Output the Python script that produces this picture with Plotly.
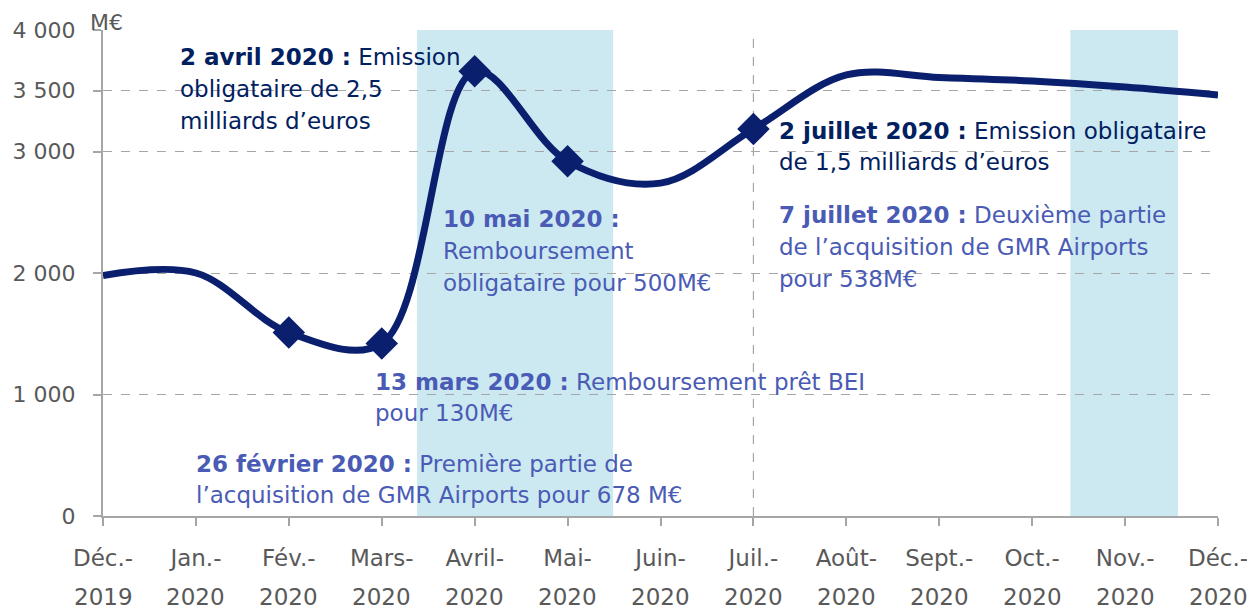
import plotly.graph_objects as go

# ---- data ----
months = ["Déc.-", "Jan.-", "Fév.-", "Mars-", "Avril-", "Mai-", "Juin-",
          "Juil.-", "Août-", "Sept.-", "Oct.-", "Nov.-", "Déc.-"]
years = ["2019", "2020", "2020", "2020", "2020", "2020", "2020",
         "2020", "2020", "2020", "2020", "2020", "2020"]
values = [1980, 2000, 1510, 1420, 3660, 2920, 2740, 3185, 3630, 3610, 3580, 3530, 3465]
marker_idx = [2, 3, 4, 5, 7]
ytick_vals = [0, 1000, 2000, 3000, 3500, 4000]
ytick_text = ["0", "1 000", "2 000", "3 000", "3 500", "4 000"]
shade_ranges = [(3.38, 5.49), (10.41, 11.57)]
vline_idx = 7

DARK = "#0B1F6F"
TXT_DARK = "#002060"
TXT_LIGHT = "#4A5BB5"
GREY = "#595959"
AXIS = "#A6A6A6"
FONT = "DejaVu Sans"
FS = 23
TFS = 23
YFS = 22

# page offset (body margin of the html page)
OFF = 8
W, H = 1255 - OFF, 610 - OFF
# plot area in page pixels
L, R, T, B = 103, 1218, 30, 516

x = list(range(len(months)))

fig = go.Figure()
fig.add_trace(go.Scatter(x=x, y=values, mode="lines",
                         line=dict(color=DARK, width=7, shape="spline", smoothing=1.0),
                         hoverinfo="skip", showlegend=False))
fig.add_trace(go.Scatter(x=[x[i] for i in marker_idx], y=[values[i] for i in marker_idx],
                         mode="markers",
                         marker=dict(symbol="diamond", size=25, color=DARK),
                         showlegend=False))

for x0, x1 in shade_ranges:
    fig.add_shape(type="rect", xref="x", yref="paper", x0=x0, x1=x1, y0=0, y1=1,
                  fillcolor="#CCE9F2", line_width=0, layer="below")

fig.add_shape(type="line", xref="x", yref="paper", x0=vline_idx, x1=vline_idx, y0=0, y1=1,
              line=dict(color=AXIS, width=1.2, dash="dash"), layer="below")

def px(xp):
    return (xp - L) / (R - L)
def py(yp):
    return (B - yp) / (B - T)

def note(left, ycenter, text, color):
    fig.add_annotation(x=px(left), y=py(ycenter), xref="paper", yref="paper",
                       text=text, showarrow=False, xanchor="left", yanchor="middle",
                       font=dict(family=FONT, size=FS, color=color))

note(178, 57, "<b>2 avril 2020 :</b> Emission", TXT_DARK)
note(178, 89, "obligataire de 2,5", TXT_DARK)
note(178, 121, "milliards d’euros", TXT_DARK)

note(441, 219, "<b>10 mai 2020 :</b>", TXT_LIGHT)
note(441, 251, "Remboursement", TXT_LIGHT)
note(441, 283, "obligataire pour 500M€", TXT_LIGHT)

note(777, 131, "<b>2 juillet 2020 :</b> Emission obligataire", TXT_DARK)
note(777, 162, "de 1,5 milliards d’euros", TXT_DARK)

note(777, 215, "<b>7 juillet 2020 :</b> Deuxième partie", TXT_LIGHT)
note(777, 247, "de l’acquisition de GMR Airports", TXT_LIGHT)
note(777, 279, "pour 538M€", TXT_LIGHT)

note(373, 382, "<b>13 mars 2020 :</b> Remboursement prêt BEI", TXT_LIGHT)
note(373, 413, "pour 130M€", TXT_LIGHT)

note(194, 464, "<b>26 février 2020 :</b> Première partie de", TXT_LIGHT)
note(194, 495, "l’acquisition de GMR Airports pour 678 M€", TXT_LIGHT)

# unit label
fig.add_annotation(x=px(88), y=py(8), xref="paper", yref="paper", text="M€",
                   showarrow=False, xanchor="left", yanchor="top",
                   font=dict(family=FONT, size=22, color=GREY))

# second line of category labels
for i, yr in enumerate(years):
    fig.add_annotation(x=i, y=py(597), xref="x", yref="paper", text=yr,
                       showarrow=False, xanchor="center", yanchor="middle",
                       font=dict(family=FONT, size=TFS, color=GREY))

fig.update_layout(
    width=W, height=H,
    margin=dict(l=L - OFF, r=W - (R - OFF), t=T - OFF, b=H - (B - OFF), pad=0,
                autoexpand=False),
    paper_bgcolor="white", plot_bgcolor="white",
    font=dict(family=FONT, size=TFS, color=GREY),
    showlegend=False,
)
fig.update_xaxes(range=[0, 12], tickvals=x, ticktext=months, showgrid=False,
                 showline=True, linecolor=AXIS, linewidth=2, ticks="outside",
                 ticklen=8, tickcolor=AXIS, tickwidth=1.5, zeroline=False,
                 automargin=False,
                 ticklabelstandoff=12, tickfont=dict(family=FONT, size=TFS, color=GREY))
fig.update_yaxes(range=[0, 4000], tickvals=ytick_vals, ticktext=ytick_text,
                 showgrid=True, gridcolor=AXIS, griddash="dash", gridwidth=1.2,
                 showline=True, linecolor=AXIS, linewidth=2, ticks="outside",
                 ticklen=8, tickcolor=AXIS, tickwidth=1.5, zeroline=False,
                 automargin=False,
                 ticklabelstandoff=13, tickfont=dict(family=FONT, size=YFS, color=GREY))

fig.write_html("out.html")
